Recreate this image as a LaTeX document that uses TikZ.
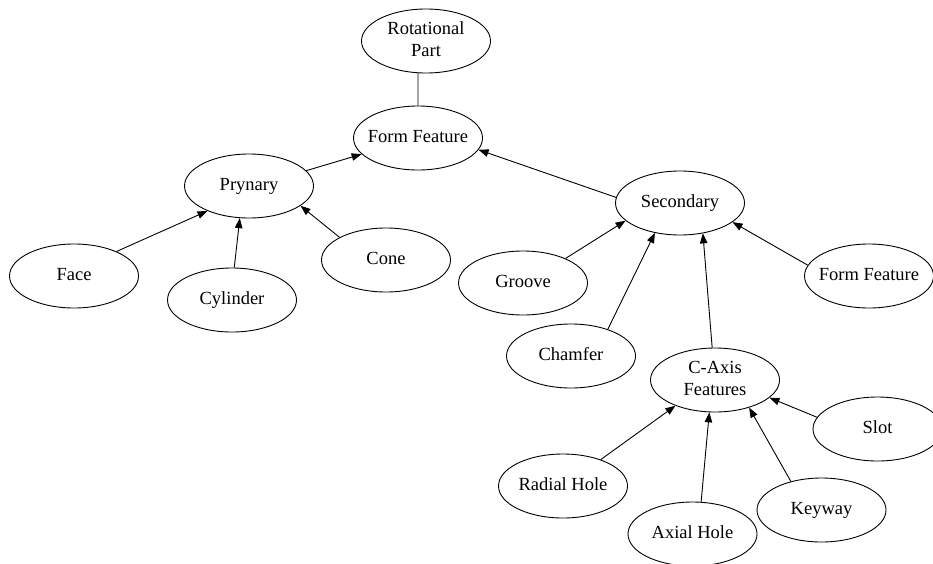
\documentclass[tikz,border=0pt]{standalone}
\usepackage{fontspec}
\setmainfont{Liberation Serif}
\usetikzlibrary{shapes.geometric,arrows.meta}

% zero-width label box so the ellipse size is set only by the minimum sizes
\newcommand{\nodetext}[1]{\makebox[0pt][c]{\begin{tabular}{@{}c@{}}#1\end{tabular}}}

\tikzset{
  feat/.style={ellipse, draw, line width=0.9pt, inner sep=0pt,
    minimum width=129pt, minimum height=64pt,
    font=\fontsize{18.5}{22.3}\selectfont},
  link/.style={line width=0.9pt},
  isa/.style={line width=0.9pt, -{Triangle[length=10pt,width=7.5pt]}}
}

\begin{document}
\begin{tikzpicture}[x=1pt,y=-1pt]
\useasboundingbox (0,0) rectangle (933,563);

% feature nodes
\node[feat] (rot)     at (426,41)    {\nodetext{Rotational\\Part}};
\node[feat] (ff)      at (418,138)   {\nodetext{Form Feature}};
\node[feat] (pry)     at (249,186)   {\nodetext{Prynary}};
\node[feat] (face)    at (74,276)    {\nodetext{Face}};
\node[feat] (cyl)     at (232,300)   {\nodetext{Cylinder}};
\node[feat] (cone)    at (386,260)   {\nodetext{Cone}};
\node[feat] (sec)     at (680,203)   {\nodetext{Secondary}};
\node[feat] (groove)  at (523,283)   {\nodetext{Groove}};
\node[feat] (ffb)     at (869,276)   {\nodetext{Form Feature}};
\node[feat] (chamfer) at (571,356)   {\nodetext{Chamfer}};
\node[feat] (caxis)   at (715,380)   {\nodetext{C-Axis\\Features}};
\node[feat] (slot)    at (877.5,429) {\nodetext{Slot}};
\node[feat] (radial)  at (563,486)   {\nodetext{Radial Hole}};
\node[feat] (axial)   at (692.5,534) {\nodetext{Axial Hole}};
\node[feat] (keyway)  at (821.5,510) {\nodetext{Keyway}};

% connectors
\draw[link] (rot.256) -- (ff.north);
\draw[isa] (pry.15.7)    -- (ff.196);
\draw[isa] (face.30.6)   -- (pry.211.7);
\draw[isa] (cyl.86)      -- (pry.254.3);
\draw[isa] (cone.154)    -- (pry.339.3);
\draw[isa] (sec.175.9)   -- (ff.349);
\draw[isa] (groove.30.3) -- (sec.198.6);
\draw[isa] (chamfer.36.1)-- (sec.230.6);
\draw[isa] (caxis.95.4)  -- (sec.307.1);
\draw[isa] (ffb.170.8)   -- (sec.340.7);
\draw[isa] (slot.169.3)  -- (caxis.342.4);
\draw[isa] (keyway.137.9)-- (caxis.321.1);
\draw[isa] (axial.75.6)  -- (caxis.260.3);
\draw[isa] (radial.35.4) -- (caxis.213.9);
\end{tikzpicture}
\end{document}
